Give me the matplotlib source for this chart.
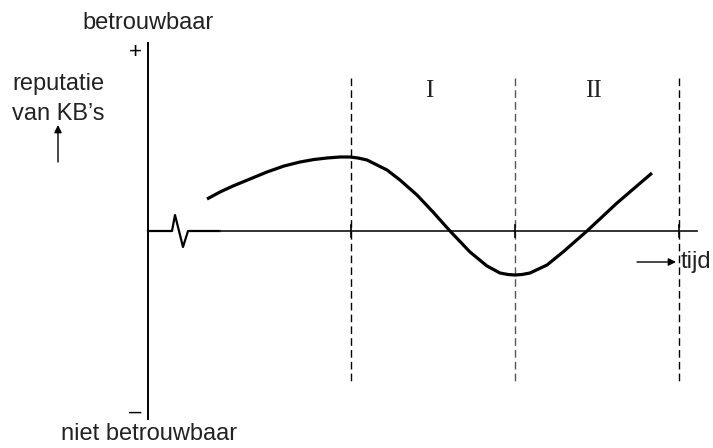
import matplotlib
matplotlib.use("Agg")
from matplotlib import pyplot as plt

# curve (x = time, y = reputation, 0 = time axis)
tijd = [207, 220, 233, 250, 267, 284, 300, 314, 327, 340, 350, 358, 367, 377,
        387, 400, 417, 433, 450, 470, 487, 500, 508, 515, 522, 530, 547, 563,
        587, 617, 652]
reputatie = [32, 39, 45, 52, 59, 65, 69, 71.5, 73, 74, 74, 73, 71, 66,
             61, 51, 36, 19, 0, -21, -35, -42, -43.5, -44, -43.5, -42, -34, -21,
             0, 28, 58]

# period boundaries (dashed lines) and period labels
grenzen = [351, 515, 679]
perioden = ["I", "II"]

sans = "Liberation Sans"
serif = "Liberation Serif"

fig = plt.figure(figsize=(7.13, 4.48), dpi=100)
ax = fig.add_axes([0, 0, 1, 1])
ax.set_xlim(0, 713)
ax.set_ylim(-217, 231)
ax.axis("off")

# axes
ax.plot([148, 148], [188, -188], color="black", lw=1.4)
ax.plot([148, 172, 175, 183, 188, 220], [0, 0, 16, -16, 0, 0], color="black", lw=1.6)
ax.plot([220, 697], [0, 0], color="#222222", lw=1.3)

# dashed period boundaries
for i, g in enumerate(grenzen):
    ax.plot([g, g], [153, -151], color="#555555" if i == 1 else "black",
            lw=1.0, dashes=(5.5, 3))
    ax.plot([g, g], [-6, 6], color="black", lw=1.2)

# curve
ax.plot(tijd, reputatie, color="black", lw=2.3, solid_capstyle="butt",
        solid_joinstyle="round")

# period labels
for i, p in enumerate(perioden):
    ax.text((grenzen[i] + grenzen[i + 1]) / 2 - 3.5, 140, p, family=serif,
            fontsize=18, ha="center", va="center", color="#222222")

# text labels
ax.text(148, 202, "betrouwbaar", family=sans, fontsize=17, ha="center",
        va="baseline", color="#222222")
ax.text(135, 179, "+", family=sans, fontsize=16, ha="center", va="center")
ax.text(135, -181, "–", family=sans, fontsize=16, ha="center", va="center")
ax.text(149, -209, "niet betrouwbaar", family=sans, fontsize=17, ha="center",
        va="baseline", color="#222222")
ax.text(12, 141, "reputatie", family=sans, fontsize=17, ha="left",
        va="baseline", color="#222222")
ax.text(12, 111, "van KB’s", family=sans, fontsize=17, ha="left",
        va="baseline", color="#222222")
ax.annotate("", xy=(58, 106), xytext=(58, 69),
            arrowprops=dict(arrowstyle="-|>", color="black", lw=1.0,
                            mutation_scale=11, shrinkA=0, shrinkB=0))
ax.annotate("", xy=(676, -31), xytext=(637, -31),
            arrowprops=dict(arrowstyle="-|>", color="black", lw=1.0,
                            mutation_scale=11, shrinkA=0, shrinkB=0))
ax.text(681, -31, "tijd", family=sans, fontsize=17, ha="left", va="center",
        color="#222222")

fig.savefig("out.png", dpi=100)
